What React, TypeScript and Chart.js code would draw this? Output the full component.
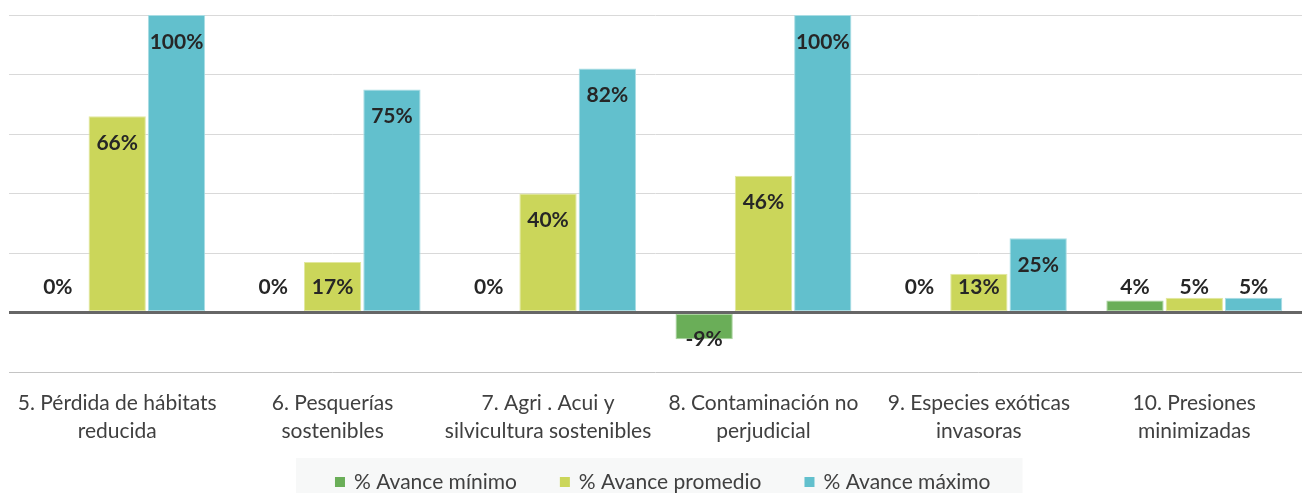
import React, { useEffect, useRef } from "react";
import { Chart, registerables } from "chart.js";

Chart.register(...registerables);

const categories: string[][] = [
  ["5. Pérdida de hábitats", "reducida"],
  ["6. Pesquerías", "sostenibles"],
  ["7. Agri . Acui y", "silvicultura sostenibles"],
  ["8. Contaminación no", "perjudicial"],
  ["9. Especies exóticas", "invasoras"],
  ["10. Presiones", "minimizadas"],
];

const seriesNames = ["% Avance mínimo", "% Avance promedio", "% Avance máximo"];
const avanceMinimo = [0, 0, 0, -9, 0, 4];
const avancePromedio = [66, 17, 40, 46, 13, 5];
const avanceMaximo = [100, 75, 82, 100, 25, 5];

const yMin = -20;
const yMax = 100;
const yStep = 20;

const colors = ["#6aae58", "#cbd65a", "#62c0cd"];
const borders = ["#a9d49d", "#e2e89f", "#a9dde4"];

const FONT = "Lato, 'Open Sans', sans-serif";

const zeroLinePlugin = {
  id: "zeroLine",
  afterDatasetsDraw(chart: any) {
    const y = chart.scales.y.getPixelForValue(0);
    const { left, right } = chart.chartArea;
    const ctx = chart.ctx;
    ctx.save();
    ctx.strokeStyle = "#666666";
    ctx.lineWidth = 3;
    ctx.beginPath();
    ctx.moveTo(left, y);
    ctx.lineTo(right, y);
    ctx.stroke();
    ctx.restore();
  },
};

const dataLabelPlugin = {
  id: "dataLabels",
  afterDatasetsDraw(chart: any) {
    const ctx = chart.ctx;
    const zeroY = chart.scales.y.getPixelForValue(0);
    ctx.save();
    ctx.font = `bold 21px ${FONT}`;
    ctx.fillStyle = "#262626";
    ctx.textAlign = "center";
    ctx.textBaseline = "middle";
    chart.data.datasets.forEach((ds: any, di: number) => {
      const meta = chart.getDatasetMeta(di);
      meta.data.forEach((el: any, i: number) => {
        const v = ds.data[i];
        let y: number;
        if (v >= 0) y = Math.min(el.y + 27, zeroY - 25);
        else y = Math.max(el.y - 27, zeroY + 27);
        ctx.fillText(`${v}%`, el.x, y);
      });
    });
    ctx.restore();
  },
};

// Custom legend with a light grey panel behind it
const legendPlugin = {
  id: "customLegend",
  afterDraw(chart: any) {
    const ctx = chart.ctx;
    const ds = chart.data.datasets;
    const fontSize = 21;
    const box = 10;
    const boxGap = 9;
    const itemGap = 43;
    ctx.save();
    ctx.font = `${fontSize}px ${FONT}`;
    const widths = ds.map((d: any) => box + boxGap + ctx.measureText(d.label).width);
    const total = widths.reduce((a: number, b: number) => a + b, 0) + itemGap * (ds.length - 1);
    const cx = (chart.chartArea.left + chart.chartArea.right) / 2 + 7;
    const cy = 482;
    let x = cx - total / 2;
    const panelL = x - 39;
    const panelR = x + total + 32;
    ctx.fillStyle = "#f7f8f8";
    ctx.fillRect(panelL, 458, panelR - panelL, chart.height - 458);
    ctx.textBaseline = "middle";
    ctx.textAlign = "left";
    ds.forEach((d: any, i: number) => {
      ctx.fillStyle = d.backgroundColor;
      ctx.fillRect(x, cy - box / 2, box, box);
      ctx.fillStyle = "#404040";
      ctx.fillText(d.label, x + box + boxGap, cy);
      x += widths[i] + itemGap;
    });
    ctx.restore();
  },
};

export default function App() {
  const ref = useRef<HTMLCanvasElement | null>(null);

  useEffect(() => {
    document.body.style.margin = "0";
    if (!ref.current) return;
    const datasets = [avanceMinimo, avancePromedio, avanceMaximo].map((d, i) => ({
      label: seriesNames[i],
      data: d,
      backgroundColor: colors[i],
      borderColor: borders[i],
      borderWidth: 1,
      borderSkipped: false as const,
      categoryPercentage: 0.826,
      barPercentage: 0.966,
    }));
    const chart = new Chart(ref.current, {
      type: "bar",
      data: { labels: categories, datasets },
      plugins: [zeroLinePlugin, dataLabelPlugin, legendPlugin],
      options: {
        animation: false,
        responsive: false,
        layout: { padding: { left: 9, right: 0, top: 15, bottom: 48 } },
        plugins: {
          tooltip: { enabled: false },
          legend: { display: false },
        },
        scales: {
          x: {
            grid: { display: false, drawTicks: false },
            border: { display: false },
            afterFit: (scale: any) => {
              scale.height = 73;
            },
            ticks: {
              color: "#404040",
              font: { family: FONT, size: 21, lineHeight: 28 / 21 },
              padding: 17,
              maxRotation: 0,
              autoSkip: false,
            },
          },
          y: {
            min: yMin,
            max: yMax,
            border: { display: false },
            grid: {
              drawTicks: false,
              color: (c: any) =>
                c.tick && c.tick.value === 0 ? "#666666" : c.tick && c.tick.value === yMin ? "#c4c4c4" : "#d9d9d9",
              lineWidth: (c: any) => (c.tick && c.tick.value === 0 ? 3 : 1),
            },
            ticks: { display: false, stepSize: yStep },
          },
        },
      },
    });
    return () => chart.destroy();
  }, []);

  return (
    <div style={{ width: 1302, height: 493, background: "#ffffff" }}>
      <canvas ref={ref} width={1302} height={493} style={{ width: 1302, height: 493, display: "block" }} />
    </div>
  );
}
